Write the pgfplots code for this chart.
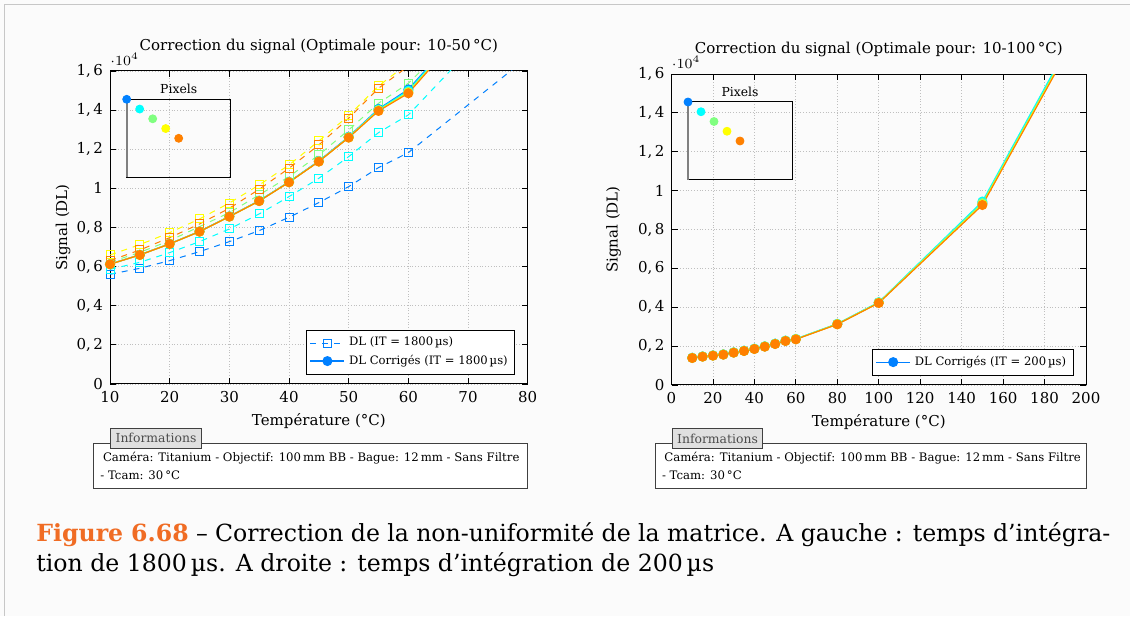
\documentclass[border=0pt]{standalone}
\usepackage{pgfplots}
\pgfplotsset{compat=1.18}
\usepackage{fontspec}
\setmainfont{DejaVu Serif}

\definecolor{bgc}{RGB}{251,251,251}
\definecolor{cA}{RGB}{0,128,255}
\definecolor{cB}{RGB}{0,255,255}
\definecolor{cC}{RGB}{128,255,128}
\definecolor{cD}{RGB}{255,255,0}
\definecolor{cE}{RGB}{255,128,0}
\definecolor{figorange}{RGB}{240,108,36}

\newcommand{\figfont}{\fontsize{7.5}{9}\selectfont}
\newcommand{\legfont}{\fontsize{5.8}{7}\selectfont}
\newcommand{\infofont}{\fontsize{5.85}{7}\selectfont}
\newcommand{\tabfont}{\fontsize{6.2}{7.5}\selectfont}

\pgfplotsset{
  mainax/.style={
    scale only axis, anchor=south west,
    font=\figfont,
    ymin=0, ymax=16000, ytick={0,2000,...,16000},
    scaled y ticks=base 10:-4,
    /pgf/number format/assume math mode=true,
    /pgf/number format/fixed, /pgf/number format/precision=1,
    /pgf/number format/dec sep={,\,},
    /pgfplots/every y tick scale label/.style={at={(rel axis cs:0,1)}, anchor=south west, inner sep=0pt, yshift=2.5pt},
    grid=major, grid style={densely dotted, black!25},
    tick style={black, line width=0.4pt}, major tick length=3pt,
    axis line style={line width=0.5pt},
    ylabel={Signal (DL)}, xlabel={Température (°C)},
    title style={font=\figfont, anchor=center, yshift=6.5pt},
    legend style={font=\legfont, at={(0.97,0.03)}, anchor=south east, draw=black, fill=white, inner sep=1.5pt, row sep=-1pt},
    legend cell align=left,
  },
  dl/.style={dashed, line width=0.5pt, mark=square, mark size=2pt, mark options={solid}},
  dc/.style={solid, line width=0.6pt, mark=*, mark size=2.2pt},
  inset/.style={
    scale only axis, anchor=south west, width=52pt, height=39pt,
    xmin=0, xmax=1, ymin=0, ymax=1, ticks=none, clip=false,
    title={Pixels}, title style={font=\tabfont, anchor=base, yshift=-3.2pt},
    axis line style={line width=0.5pt},
  },
}

\begin{document}
\begin{tikzpicture}
\path[use as bounding box, fill=bgc] (0,0) rectangle (565pt,308pt);
\draw[black!22, line width=0.5pt] (2.15pt,0) -- (2.15pt,305.85pt) -- (565pt,305.85pt);

% ---------------- left chart ----------------
\begin{axis}[mainax, at={(55pt,116pt)}, width=208.85pt, height=156.5pt,
  xmin=10, xmax=80, xtick={10,20,...,80},
  title={Correction du signal (Optimale pour: 10-50\,°C)},
  ylabel style={at={(axis description cs:-0.1125,0.5)}, anchor=center},
  xlabel style={at={(axis description cs:0.5,-0.118)}, anchor=center}]
\addplot[dl, cA] coordinates {(10,5607) (15,5914) (20,6306) (25,6766) (30,7277) (35,7840) (40,8523) (45,9271) (50,10089) (55,11061) (60,11828) (80,16700)};
\addlegendentry{DL (IT = 1800\,µs)}
\addplot[dl, cB, forget plot] coordinates {(10,5863) (15,6221) (20,6715) (25,7277) (30,7925) (35,8692) (40,9578) (45,10515) (50,11623) (55,12850) (60,13754) (80,20200)};
\addplot[dl, cC, forget plot] coordinates {(10,6230) (15,6729) (20,7327) (25,8045) (30,8760) (35,9664) (40,10601) (45,11709) (50,12987) (55,14350) (60,15373) (80,21400)};
\addplot[dl, cD, forget plot] coordinates {(10,6596) (15,7124) (20,7738) (25,8436) (30,9251) (35,10174) (40,11197) (45,12424) (50,13719) (55,15236) (60,16400) (80,21500)};
\addplot[dl, cE, forget plot] coordinates {(10,6306) (15,6851) (20,7482) (25,8180) (30,8982) (35,9953) (40,11027) (45,12220) (50,13583) (55,15117) (60,16250) (80,21000)};
\addplot[dc, cA] coordinates {(10,6130) (15,6605) (20,7170) (25,7800) (30,8570) (35,9370) (40,10335) (45,11400) (50,12640) (55,14060) (60,15060) (80,21900)};
\addlegendentry{DL Corrigés (IT = 1800\,µs)}
\addplot[dc, cB, forget plot] coordinates {(10,6127) (15,6602) (20,7166) (25,7796) (30,8565) (35,9364) (40,10328) (45,11390) (50,12625) (55,14030) (60,15000) (80,21870)};
\addplot[dc, cC, forget plot] coordinates {(10,6125) (15,6600) (20,7163) (25,7793) (30,8560) (35,9358) (40,10320) (45,11380) (50,12610) (55,14000) (60,14930) (80,21850)};
\addplot[dc, cD, forget plot] coordinates {(10,6123) (15,6598) (20,7160) (25,7791) (30,8557) (35,9354) (40,10315) (45,11374) (50,12600) (55,13975) (60,14890) (80,21820)};
\addplot[dc, cE, forget plot] coordinates {(10,6121) (15,6596) (20,7158) (25,7789) (30,8555) (35,9351) (40,10311) (45,11368) (50,12595) (55,13958) (60,14861) (80,21800)};
\end{axis}

\begin{axis}[inset, at={(63.35pt,219.35pt)}]
\draw[black!50, line width=1.2pt] (axis cs:0,0) -- (axis cs:0,1);
\addplot[only marks, mark=*, mark size=2pt, cA] coordinates {(0,1)};
\addplot[only marks, mark=*, mark size=2pt, cB] coordinates {(0.125,0.875)};
\addplot[only marks, mark=*, mark size=2pt, cC] coordinates {(0.25,0.75)};
\addplot[only marks, mark=*, mark size=2pt, cD] coordinates {(0.375,0.625)};
\addplot[only marks, mark=*, mark size=2pt, cE] coordinates {(0.5,0.5)};
\end{axis}

% ---------------- right chart ----------------
\begin{axis}[mainax, at={(335.75pt,115.5pt)}, width=207.25pt, height=155.5pt,
  xmin=0, xmax=200, xtick={0,20,...,200},
  title={Correction du signal (Optimale pour: 10-100\,°C)},
  ylabel style={at={(axis description cs:-0.14,0.5)}, anchor=center},
  xlabel style={at={(axis description cs:0.5,-0.118)}, anchor=center}]
\addplot[dc, cA] coordinates {(10,1396) (15,1464) (20,1517) (25,1569) (30,1671) (35,1758) (40,1861) (45,1982) (50,2120) (55,2274) (60,2361) (80,3136) (100,4240) (150,9350) (200,19050)};
\addlegendentry{DL Corrigés (IT = 200\,µs)}
\addplot[dc, cB, forget plot] coordinates {(10,1403) (15,1472) (20,1524) (25,1577) (30,1680) (35,1766) (40,1871) (45,1992) (50,2130) (55,2286) (60,2373) (80,3150) (100,4260) (150,9440) (200,19150)};
\addplot[dc, cC, forget plot] coordinates {(10,1398) (15,1466) (20,1519) (25,1572) (30,1675) (35,1760) (40,1865) (45,1985) (50,2124) (55,2277) (60,2365) (80,3140) (100,4245) (150,9360) (200,19020)};
\addplot[dc, cD, forget plot] coordinates {(10,1392) (15,1460) (20,1512) (25,1564) (30,1667) (35,1752) (40,1855) (45,1976) (50,2113) (55,2267) (60,2353) (80,3126) (100,4228) (150,9290) (200,18950)};
\addplot[dc, cE, forget plot] coordinates {(10,1389) (15,1457) (20,1509) (25,1561) (30,1663) (35,1749) (40,1852) (45,1972) (50,2109) (55,2263) (60,2349) (80,3120) (100,4218) (150,9259) (200,18900)};
\end{axis}

\begin{axis}[inset, at={(344pt,218pt)}]
\draw[black!50, line width=1.2pt] (axis cs:0,0) -- (axis cs:0,1);
\addplot[only marks, mark=*, mark size=2pt, cA] coordinates {(0,1)};
\addplot[only marks, mark=*, mark size=2pt, cB] coordinates {(0.125,0.875)};
\addplot[only marks, mark=*, mark size=2pt, cC] coordinates {(0.25,0.75)};
\addplot[only marks, mark=*, mark size=2pt, cD] coordinates {(0.375,0.625)};
\addplot[only marks, mark=*, mark size=2pt, cE] coordinates {(0.5,0.5)};
\end{axis}

% ---------------- information boxes ----------------
\draw[black!75, line width=0.5pt, fill=white] (46.67pt,63.85pt) rectangle (263.8pt,86.35pt);
\draw[black!75, line width=0.5pt, fill=black!12] (55.3pt,83.85pt) rectangle (100.7pt,93.85pt);
\node[anchor=base, inner sep=0pt, font=\tabfont, text=black!70] at (78pt,86.65pt) {Informations};
\node[anchor=base west, inner sep=0pt, font=\infofont] at (51.3pt,77.15pt) {Caméra: Titanium - Objectif: 100\,mm BB - Bague: 12\,mm - Sans Filtre};
\node[anchor=base west, inner sep=0pt, font=\infofont] at (50pt,68pt) {- Tcam: 30\,°C};

\draw[black!75, line width=0.5pt, fill=white] (327.8pt,63.85pt) rectangle (543pt,86.35pt);
\draw[black!75, line width=0.5pt, fill=black!12] (336.2pt,83.5pt) rectangle (381.3pt,93.5pt);
\node[anchor=base, inner sep=0pt, font=\tabfont, text=black!70] at (358.75pt,86.4pt) {Informations};
\node[anchor=base west, inner sep=0pt, font=\infofont] at (332pt,77.15pt) {Caméra: Titanium - Objectif: 100\,mm BB - Bague: 12\,mm - Sans Filtre};
\node[anchor=base west, inner sep=0pt, font=\infofont] at (330.8pt,68pt) {- Tcam: 30\,°C};

% ---------------- caption ----------------
\node[anchor=base west, inner sep=0pt, font=\fontsize{11.8}{14}\selectfont] at (18pt,37.2pt)
  {\makebox[537pt][s]{\textcolor{figorange}{\bfseries Figure 6.68} – Correction de la non-uniformité de la matrice. A gauche : temps d’intégra-}};
\node[anchor=base west, inner sep=0pt, font=\fontsize{11.8}{14}\selectfont] at (18pt,22.5pt)
  {tion de 1800\,µs. A droite : temps d’intégration de 200\,µs};
\end{tikzpicture}
\end{document}
